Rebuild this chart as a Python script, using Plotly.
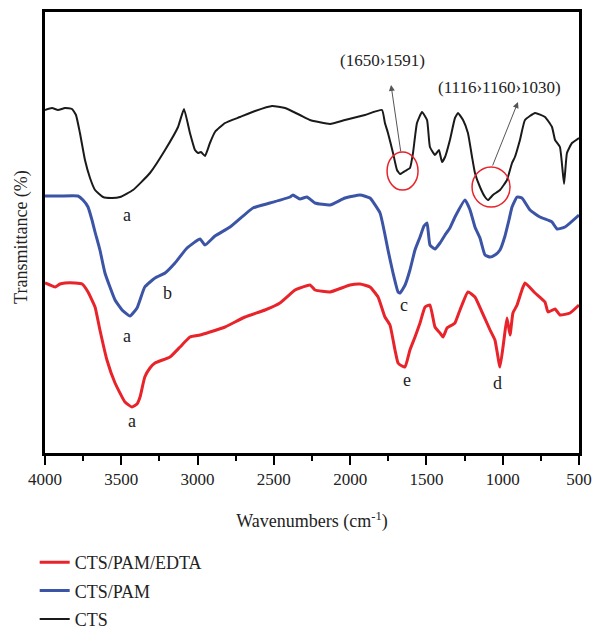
import plotly.graph_objects as go

# ---- data (wavenumber in cm^-1, transmittance in arbitrary offset units) ----
cts_wn = [4000, 3954, 3915, 3869, 3823, 3797, 3771, 3738, 3705, 3672, 3620, 3561, 3508, 3423, 3312, 3213,
          3128, 3089, 3050, 3017, 2997, 2978, 2951, 2919, 2886, 2820, 2722, 2623, 2512, 2427, 2329, 2263,
          2132, 2034, 1903, 1791, 1772, 1752, 1719, 1693, 1673, 1640, 1608, 1588, 1562, 1529, 1496, 1477,
          1444, 1418, 1398, 1378, 1346, 1313, 1293, 1260, 1228, 1201, 1182, 1149, 1116, 1096, 1064, 1018,
          972, 939, 920, 887, 854, 788, 723, 677, 657, 625, 598, 579, 546, 500]
cts_t = [343, 345, 343, 345, 344, 338, 320, 293, 275, 263, 256, 255, 256, 263, 280, 303,
         326, 344, 320, 303, 300, 301, 297, 310, 321, 330, 336, 342, 347, 345, 338, 333,
         329, 333, 338, 343, 330, 320, 300, 283, 279, 282, 285, 300, 330, 341, 333, 306,
         298, 303, 291, 296, 313, 335, 340, 333, 320, 296, 280, 266, 256, 253, 258, 263,
         273, 290, 296, 313, 333, 340, 336, 326, 313, 306, 269, 300, 310, 315]

pam_wn = [4000, 3902, 3784, 3751, 3718, 3692, 3672, 3640, 3607, 3541, 3495, 3443, 3397, 3346, 3279, 3213,
          3148, 3069, 2984, 2951, 2886, 2787, 2637, 2525, 2394, 2375, 2329, 2283, 2230, 2132, 2034, 1935,
          1870, 1804, 1778, 1752, 1719, 1686, 1673, 1640, 1608, 1575, 1542, 1516, 1496, 1477, 1444, 1411,
          1378, 1346, 1313, 1247, 1214, 1182, 1149, 1116, 1083, 1051, 1018, 985, 959, 939, 906, 874,
          821, 756, 677, 644, 592, 500]
pam_t = [257, 257, 257, 253, 246, 233, 221, 203, 180, 153, 143, 137, 145, 166, 175, 180,
         190, 205, 214, 208, 217, 226, 245, 250, 256, 258, 254, 256, 250, 248, 255, 258,
         255, 240, 223, 203, 180, 161, 160, 168, 183, 203, 216, 227, 230, 208, 204, 210,
         218, 225, 236, 253, 243, 226, 215, 198, 196, 198, 203, 217, 233, 246, 256, 255,
         243, 236, 231, 224, 226, 238]

edta_wn = [4000, 3967, 3934, 3902, 3869, 3803, 3757, 3718, 3672, 3640, 3594, 3541, 3476, 3430, 3397, 3377,
           3346, 3312, 3279, 3181, 3115, 3050, 2984, 2919, 2820, 2689, 2558, 2460, 2361, 2329, 2263, 2230,
           2132, 2001, 1935, 1870, 1817, 1772, 1739, 1706, 1686, 1660, 1640, 1608, 1575, 1542, 1509, 1477,
           1444, 1411, 1391, 1365, 1332, 1313, 1280, 1228, 1182, 1136, 1083, 1051, 1018, 992, 972, 952,
           933, 906, 874, 854, 788, 723, 703, 657, 625, 559, 500]
edta_t = [170, 168, 166, 169, 170, 170, 169, 161, 146, 123, 93, 70, 51, 46, 49, 56,
          76, 85, 90, 96, 106, 116, 118, 121, 126, 136, 143, 150, 163, 165, 168, 163,
          161, 168, 169, 166, 156, 136, 128, 103, 90, 87, 86, 103, 116, 130, 146, 148,
          126, 120, 116, 125, 128, 130, 143, 161, 156, 141, 123, 113, 86, 113, 135, 118,
          140, 148, 163, 170, 160, 151, 141, 144, 138, 140, 148]

# legend order: top to bottom
series_names = ["CTS/PAM/EDTA", "CTS/PAM", "CTS"]
series_x = [edta_wn, pam_wn, cts_wn]
series_y = [edta_t, pam_t, cts_t]
series_colors = ["#e8232a", "#3b54a5", "#1a1a1a"]
series_widths = [3, 3, 2]

peak_labels = ["a", "a", "b", "a", "c", "e", "d"]
peak_wn = [3463, 3463, 3194, 3430, 1647, 1627, 1031]
peak_t = [238, 117, 160, 32, 148, 73, 70]

serif = "Liberation Serif, Times New Roman, serif"

fig = go.Figure()
for name, xs, ys, c, w in zip(series_names, series_x, series_y, series_colors, series_widths):
    fig.add_trace(go.Scatter(x=xs, y=ys, mode="lines", name=name, legendgroup=name,
                             line=dict(color=c, width=w, shape="spline", smoothing=0.4)))

for lab, x, y in zip(peak_labels, peak_wn, peak_t):
    fig.add_annotation(x=x, y=y, text=lab, showarrow=False,
                       font=dict(family=serif, size=18, color="#222"))

# group labels
fig.add_annotation(x=1785, y=393, text="(1650›1591)", showarrow=False,
                   font=dict(family=serif, size=17, color="#222"))
fig.add_annotation(x=1018, y=366, text="(1116›1160›1030)", showarrow=False,
                   font=dict(family=serif, size=17, color="#222"))

# arrows
fig.add_annotation(x=1732, y=368, ax=1667, ay=300, axref="x", ayref="y", text="",
                   showarrow=True, arrowhead=2, arrowsize=1.2, arrowwidth=1, arrowcolor="#555")
fig.add_annotation(x=900, y=351, ax=1070, ay=286, axref="x", ayref="y", text="",
                   showarrow=True, arrowhead=2, arrowsize=1.2, arrowwidth=1, arrowcolor="#555")

# circles
fig.add_shape(type="circle", xref="x", yref="y", x0=1758, x1=1555, y0=263, y1=301,
              line=dict(color="#e8232a", width=1.5))
fig.add_shape(type="circle", xref="x", yref="y", x0=1201, x1=952, y0=246, y1=286,
              line=dict(color="#e8232a", width=1.5))

# y axis title
fig.add_annotation(xref="paper", yref="paper", x=-0.043, y=0.49, text="Transmittance (%)",
                   textangle=-90, showarrow=False, xanchor="center", yanchor="middle",
                   font=dict(family=serif, size=18, color="#222"))

fig.update_layout(
    width=598, height=631,
    margin=dict(l=45, r=19, t=12, b=178, autoexpand=False),
    paper_bgcolor="white", plot_bgcolor="white",
    font=dict(family=serif, size=17, color="#222"),
    showlegend=True,
    legend=dict(traceorder="grouped", tracegroupgap=2,
                xref="container", yref="container", x=0.058, y=1 - 544 / 631,
                xanchor="left", yanchor="top", font=dict(family=serif, size=18, color="#222"),
                bgcolor="rgba(0,0,0,0)"),
    xaxis=dict(range=[4000, 500], dtick=500, tick0=500, showgrid=False, zeroline=False,
               showline=True, mirror=True, linecolor="black", linewidth=2.5,
               ticks="outside", ticklen=9, tickwidth=2, tickcolor="black",
               minor=dict(dtick=250, tick0=500, ticks="outside", ticklen=5, tickwidth=2, tickcolor="black"),
               tickfont=dict(family=serif, size=17, color="#222"),
               title=dict(text="Wavenumbers (cm<sup>-1</sup>)", standoff=27,
                          font=dict(family=serif, size=18, color="#222"))),
    yaxis=dict(range=[0, 441], showgrid=False, zeroline=False, showticklabels=False,
               showline=True, mirror=True, linecolor="black", linewidth=2.5, ticks=""),
)

fig.write_html("out.html")
